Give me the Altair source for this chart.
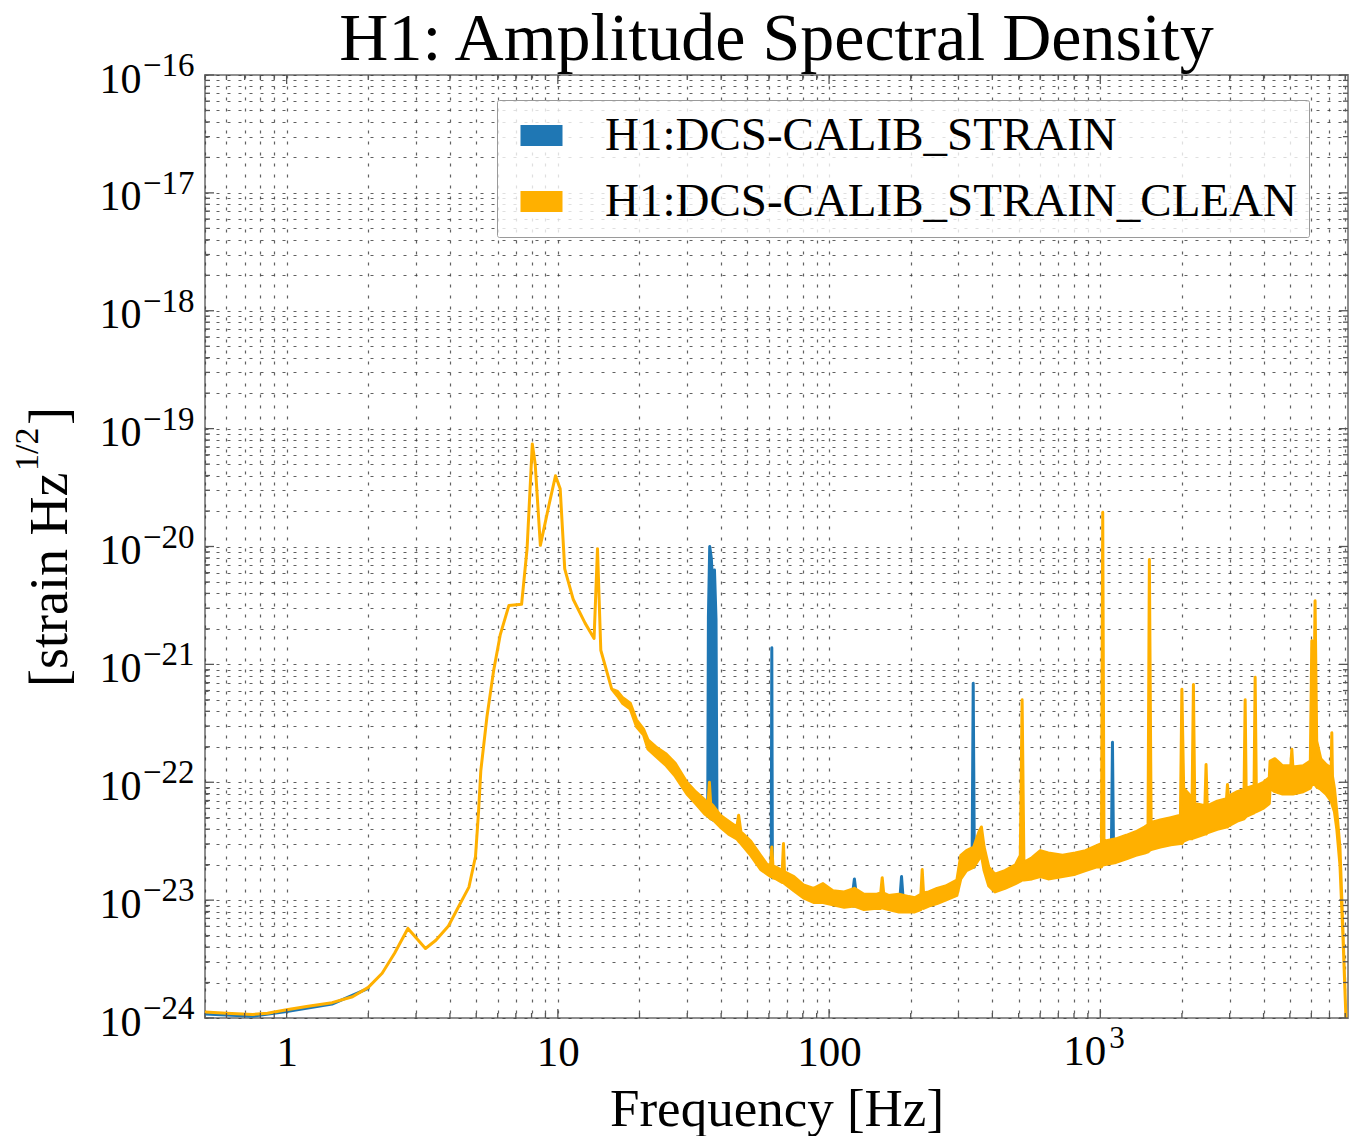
import altair as alt
import numpy as np
import pandas as pd

# ---------------- data ----------------
# H1:DCS-CALIB_STRAIN_CLEAN : frequency [Hz], lower / upper envelope of the ASD (log10 strain/rtHz)
clean_freq = [
    0.50, 0.60, 0.75, 0.85, 1.00, 1.20, 1.47, 1.75, 2.00, 2.25, 2.50, 2.80, 3.00, 3.25, 3.55,
    3.95, 4.25, 4.70, 4.97, 5.10, 5.20, 5.48, 5.80, 6.13, 6.60, 7.35, 7.70, 8.05, 8.25, 8.62,
    9.25, 9.80, 10.2, 10.6, 11.4, 12.6, 13.6, 14.0, 14.4, 15.8, 16.6, 17.3, 18.5, 19.5, 20.7,
    21.5, 23.0, 25.1, 27.1, 29.9, 32.2, 34.8, 35.8, 36.2, 36.6, 37.4, 39.7, 42.6, 45.7, 46.4,
    47.3, 51.4, 55.9, 59.2, 60.9, 61.5, 62.1, 63.8, 67.2, 67.9, 68.5, 74.2, 80.4, 87.7, 95.0,
    103.3, 113.7, 124.0, 134.5, 150.0, 155.0, 157.0, 159.0, 165.6, 181.0, 197.0, 207.0, 218.0,
    220.5, 223.0, 233.0, 250.0, 269.0, 296.0, 306.0, 321.0, 341.5, 357.0, 364.5, 373.0, 388.0,
    409.0, 445.0, 487.0, 507.0, 515.0, 523.0, 560.0, 601.0, 643.0, 726.0, 809.0, 882.0, 966.0,
    1010, 1021, 1032, 1143, 1248, 1352, 1457, 1500, 1517, 1540, 1665, 1820, 1975, 1999, 2030,
    2120, 2180, 2205, 2230, 2430, 2455, 2480, 2700, 2920, 2944, 2970, 3200, 3390, 3421, 3450,
    3690, 3724, 3760, 4000, 4200, 4227, 4400, 4700, 5040, 5085, 5130, 5600, 5950, 6025, 6110,
    6194, 6280, 6500, 6800, 7100, 7140, 7180, 7300, 7450, 7650, 7860, 8050, 8192,
]
clean_lo = [
    -23.95, -23.96, -23.97, -23.96, -23.93, -23.90, -23.87, -23.82, -23.74, -23.62, -23.45, -23.24, -23.32, -23.41, -23.34,
    -23.22, -23.08, -22.89, -22.63, -22.25, -21.90, -21.44, -21.05, -20.75, -20.50, -20.49, -20.02, -19.13, -19.30, -19.99,
    -19.66, -19.40, -19.51, -20.19, -20.45, -20.65, -20.78, -20.02, -20.88, -21.21, -21.27, -21.33, -21.38, -21.53, -21.60,
    -21.72, -21.78, -21.86, -21.95, -22.10, -22.18, -22.27, -22.29, -22.30, -22.31, -22.32, -22.38, -22.44, -22.48, -22.50,
    -22.52, -22.62, -22.74, -22.78, -22.80, -22.80, -22.81, -22.82, -22.85, -22.85, -22.86, -22.92, -22.98, -23.02, -23.02,
    -23.04, -23.06, -23.05, -23.08, -23.07, -23.07, -23.06, -23.07, -23.08, -23.10, -23.10, -23.10, -23.08,
    -23.06, -23.07, -23.05, -23.03, -23.00, -22.96, -22.82, -22.75, -22.72, -22.65, -22.62, -22.75, -22.88,
    -22.93, -22.90, -22.86, -22.84, -22.83, -22.83, -22.82, -22.80, -22.82, -22.80, -22.78, -22.75, -22.72,
    -22.72, -22.70, -22.70, -22.68, -22.65, -22.62, -22.60, -22.59, -22.58, -22.57, -22.55, -22.53, -22.52, -22.52, -22.50,
    -22.48, -22.48, -22.47, -22.47, -22.44, -22.44, -22.43, -22.40, -22.38, -22.38, -22.37, -22.33, -22.31, -22.30, -22.29,
    -22.26, -22.25, -22.25, -22.22, -22.18, -22.05, -22.08, -22.10, -22.10, -22.10, -22.10, -22.08, -22.05, -22.02, -22.02,
    -22.02, -22.04, -22.06, -22.10, -22.16, -22.18, -22.20, -22.25, -22.40, -22.70, -23.35, -24.00, -24.60,
]
clean_hi = [
    -23.95, -23.96, -23.97, -23.96, -23.93, -23.90, -23.87, -23.82, -23.74, -23.62, -23.45, -23.24, -23.32, -23.41, -23.34,
    -23.22, -23.08, -22.89, -22.63, -22.25, -21.90, -21.44, -21.05, -20.75, -20.50, -20.49, -20.02, -19.13, -19.30, -19.99,
    -19.66, -19.40, -19.51, -20.19, -20.45, -20.65, -20.78, -20.02, -20.88, -21.21, -21.23, -21.28, -21.33, -21.47, -21.55,
    -21.64, -21.70, -21.76, -21.84, -22.00, -22.08, -22.15, -22.18, -22.00, -22.18, -22.20, -22.28, -22.33, -22.38, -22.28,
    -22.42, -22.50, -22.62, -22.70, -22.70, -22.55, -22.71, -22.72, -22.75, -22.52, -22.76, -22.80, -22.87, -22.90, -22.86,
    -22.92, -22.93, -22.90, -22.95, -22.95, -22.94, -22.81, -22.94, -22.96, -22.95, -22.97, -22.98, -22.95,
    -22.74, -22.94, -22.93, -22.90, -22.88, -22.83, -22.62, -22.58, -22.55, -22.42, -22.38, -22.55, -22.72,
    -22.78, -22.75, -22.70, -22.62, -21.30, -22.68, -22.64, -22.58, -22.60, -22.62, -22.60, -22.58, -22.54,
    -22.52, -19.71, -22.50, -22.48, -22.45, -22.42, -22.38, -22.36, -20.11, -22.34, -22.32, -22.30, -22.28, -21.21, -22.05,
    -22.10, -22.15, -21.17, -22.18, -22.20, -21.85, -22.20, -22.16, -22.14, -22.02, -22.12, -22.08, -22.06, -21.30, -22.05,
    -22.03, -21.11, -22.03, -22.00, -21.96, -21.82, -21.80, -21.86, -21.86, -21.72, -21.87, -21.86, -21.82, -20.80, -21.75,
    -20.46, -21.65, -21.80, -21.85, -21.88, -21.58, -21.95, -22.05, -22.25, -22.55, -23.30, -24.00, -24.60,
]

# H1:DCS-CALIB_STRAIN : where it differs from the cleaned channel (lines removed by cleaning)
raw_group = ["a"] * 5 + ["b"] * 8 + ["c"] * 3 + ["d"] * 3 + ["e"] * 3 + ["f"] * 3 + ["g"] * 3
raw_freq = [
    0.50, 0.75, 1.00, 1.47, 2.00,
    35.7, 35.9, 36.3, 36.8, 37.3, 37.8, 38.3, 38.6,
    61.2, 61.5, 61.8,
    122.5, 124.0, 125.5,
    183.0, 185.0, 187.0,
    337.0, 340.0, 343.0,
    1100, 1109, 1118,
]
raw_lo = [
    -23.965, -23.985, -23.945, -23.882, -23.748,
    -22.29, -22.29, -22.30, -22.31, -22.32, -22.32, -22.33, -22.34,
    -22.80, -22.80, -22.81,
    -23.05, -23.05, -23.05,
    -23.09, -23.09, -23.09,
    -22.72, -22.72, -22.72,
    -22.68, -22.68, -22.68,
]
raw_hi = [
    -23.965, -23.985, -23.945, -23.882, -23.748,
    -22.20, -20.60, -20.00, -20.10, -20.35, -20.20, -20.62, -22.25,
    -22.70, -20.86, -22.70,
    -22.92, -22.82, -22.92,
    -22.95, -22.80, -22.95,
    -22.56, -21.16, -22.55,
    -22.48, -21.66, -22.48,
]

series_names = ["H1:DCS-CALIB_STRAIN", "H1:DCS-CALIB_STRAIN_CLEAN"]
title_text = "H1: Amplitude Spectral Density"
x_major = [1, 10, 100, 1000]
x_minor = sorted(set([m * 10.0 ** e for e in range(-1, 4) for m in range(2, 10)
                      if 0.5 <= m * 10.0 ** e <= 8192] + [0.5]))
y_exponents = list(range(-24, -15))
y_major = [10.0 ** e for e in y_exponents]
y_minor = [m * 10.0 ** e for e in range(-24, -16) for m in range(2, 10)]

# ---------------- tables ----------------
clean_df = pd.DataFrame({
    "f": clean_freq,
    "lo": 10.0 ** np.array(clean_lo),
    "hi": 10.0 ** np.array(clean_hi),
    "series": series_names[1],
})
raw_df = pd.DataFrame({
    "g": raw_group,
    "f": raw_freq,
    "lo": 10.0 ** np.array(raw_lo),
    "hi": 10.0 ** np.array(raw_hi),
    "series": series_names[0],
})
xmaj_df = pd.DataFrame({"v": x_major})
xmin_df = pd.DataFrame({"v": x_minor})
ymaj_df = pd.DataFrame({"v": y_major})
ymin_df = pd.DataFrame({"v": y_minor})
yexp_df = pd.DataFrame({"v": y_major, "t": ["\u2212" + str(-e) for e in y_exponents]})
kilo_df = pd.DataFrame({"v": [1000], "base": ["10"], "exp": ["3"]})

# ---------------- style ----------------
W, H = 1143, 943
FONT = "Liberation Serif"
BLUE = "#1f77b4"
ORANGE = "#ffb000"
TICK = "#555555"

xs = alt.Scale(type="log", domain=[0.5, 8192])
ys = alt.Scale(type="log", domain=[1e-24, 1e-16])
cs = alt.Scale(domain=series_names, range=[BLUE, ORANGE])

x_label_expr = ("datum.value == 1 ? '1' : datum.value == 10 ? '10' : datum.value == 100 ? '100' : ''")
y_label_expr = "abs(log(datum.value)/LN10 - round(log(datum.value)/LN10)) < 0.001 ? '10' : ''"

grid_kw = dict(grid=True, gridColor="#3a3a3a", gridDash=[3, 8], gridWidth=1.2, gridOpacity=0.8,
               ticks=False, tickSize=0, domain=False, labelOverlap=False, labelFlush=False,
               labelFont=FONT, labelColor="black")

x_axis = alt.Axis(values=x_major + x_minor, labelExpr=x_label_expr, labelFontSize=43,
                  labelPadding=47, labelBaseline="alphabetic",
                  title="Frequency [Hz]", titleFont=FONT, titleFontSize=53,
                  titleFontWeight="normal", titleColor="black", titleBaseline="alphabetic",
                  titleY=107, **grid_kw)
y_axis = alt.Axis(values=y_major + y_minor, labelExpr=y_label_expr, labelFontSize=42,
                  labelPadding=64, labelOffset=4, title="", **grid_kw)

legend = alt.Legend(orient="none", legendX=292, legendY=25, title=None,
                    symbolType="M-1,-0.5H1V0.5H-1Z", symbolSize=1764, symbolStrokeWidth=0,
                    labelFont=FONT, labelFontSize=47, labelColor="black", labelLimit=2000,
                    labelOffset=40, rowPadding=18, padding=12, symbolOffset=9,
                    fillColor="rgba(255,255,255,0.8)", strokeColor="#9a9a9a", cornerRadius=2)

# ---------------- layers ----------------
raw_layer = alt.Chart(raw_df).mark_area(
    stroke=BLUE, strokeWidth=3, strokeJoin="round", clip=True
).encode(
    x=alt.X("f:Q", scale=xs, axis=x_axis),
    y=alt.Y("lo:Q", scale=ys, axis=y_axis),
    y2="hi:Q",
    detail="g:N",
    color=alt.Color("series:N", scale=cs, legend=legend),
)

clean_layer = alt.Chart(clean_df).mark_area(
    stroke=ORANGE, strokeWidth=3, strokeJoin="round", clip=True
).encode(
    x=alt.X("f:Q", scale=xs, axis=x_axis),
    y=alt.Y("lo:Q", scale=ys, axis=y_axis),
    y2="hi:Q",
    color=alt.Color("series:N", scale=cs, legend=legend),
)


def xticks(df, y0, y1):
    return alt.Chart(df).mark_rule(color=TICK, strokeWidth=1.3).encode(
        x=alt.X("v:Q", scale=xs, axis=x_axis), y=alt.value(y0), y2=alt.value(y1))


def yticks(df, x0, x1):
    return alt.Chart(df).mark_rule(color=TICK, strokeWidth=1.3).encode(
        y=alt.Y("v:Q", scale=ys, axis=y_axis), x=alt.value(x0), x2=alt.value(x1))


tick_layers = [
    xticks(xmaj_df, H, H - 9), xticks(xmin_df, H, H - 5),
    xticks(xmaj_df, 0, 9), xticks(xmin_df, 0, 5),
    yticks(ymaj_df, 0, 9), yticks(ymin_df, 0, 5),
    yticks(ymaj_df, W, W - 9), yticks(ymin_df, W, W - 5),
]

y_exp = alt.Chart(yexp_df).mark_text(
    align="left", baseline="middle", font=FONT, fontSize=33, dy=-9, color="black"
).encode(x=alt.value(-62), y=alt.Y("v:Q", scale=ys, axis=y_axis), text="t:N")

kilo_base = alt.Chart(kilo_df).mark_text(
    align="right", baseline="alphabetic", font=FONT, fontSize=43, dx=6, color="black"
).encode(x=alt.X("v:Q", scale=xs, axis=x_axis), y=alt.value(H + 47), text="base:N")
kilo_exp = alt.Chart(kilo_df).mark_text(
    align="left", baseline="alphabetic", font=FONT, fontSize=31, dx=9, color="black"
).encode(x=alt.X("v:Q", scale=xs, axis=x_axis), y=alt.value(H + 30), text="exp:N")


def label(text, x, y, size, angle=0, align="left"):
    kw = dict(align=align, baseline="alphabetic", font=FONT, fontSize=size, color="black")
    if angle:
        kw["angle"] = angle
    return alt.Chart(pd.DataFrame({"t": [text]})).mark_text(**kw).encode(
        x=alt.value(x), y=alt.value(y), text="t:N")


title_layer = label(title_text, W / 2, -15, 68, align="center")
ytitle_main = label("[strain Hz", -138, 612, 54, angle=270)
ytitle_sup = label("1/2", -167, 396, 34, angle=270)
ytitle_end = label("]", -138, 350, 54, angle=270)

chart = alt.layer(
    raw_layer, clean_layer, *tick_layers, y_exp, kilo_base, kilo_exp,
    title_layer, ytitle_main, ytitle_sup, ytitle_end
).properties(
    width=W, height=H,
    padding={"left": 205, "top": 75, "right": 2, "bottom": 118},
    autosize=alt.AutoSizeParams(type="none"),
    background="white",
).configure_view(stroke="#8f8f8f", strokeWidth=2)

chart.save("out.html", embed_options={"renderer": "svg", "actions": False})
